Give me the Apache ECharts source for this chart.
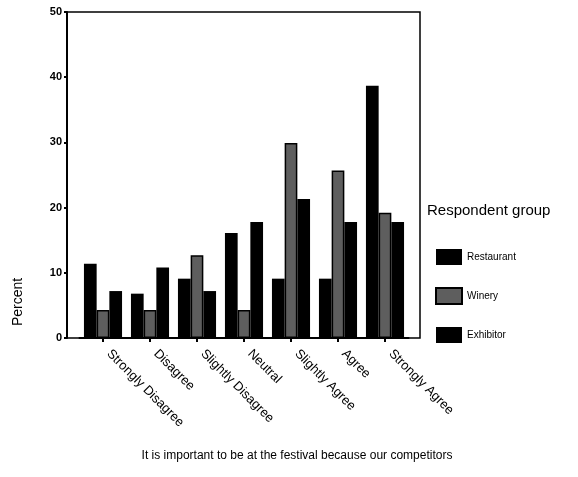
<!DOCTYPE html>
<html>
<head>
<meta charset="utf-8">
<script src="https://cdn.jsdelivr.net/npm/echarts@6/dist/echarts.min.js"></script>
<style>
html,body{margin:0;padding:0;background:#fff;}
#chart{width:578px;height:477px;}
</style>
</head>
<body>
<div id="chart"></div>
<script>
var categories = ['Strongly Disagree','Disagree','Slightly Disagree','Neutral','Slightly Agree','Agree','Strongly Agree'];
var restaurant = [11.4, 6.8, 9.1, 16.1, 9.1, 9.1, 38.7];
var winery = [4.3, 4.3, 12.7, 4.3, 29.9, 25.7, 19.2];
var exhibitor = [7.2, 10.8, 7.2, 17.8, 21.3, 17.8, 17.8];
var yTicks = [0, 10, 20, 30, 40, 50];
var legendTitle = 'Respondent group';
var xTitle = 'It is important to be at the festival because our competitors';
var yTitle = 'Percent';

var font = 'Liberation Sans, Arial, sans-serif';
var chart = echarts.init(document.getElementById('chart'));
var top0 = 12, height0 = 326;
chart.setOption({
  animation: false,
  backgroundColor: '#fff',
  textStyle: {fontFamily: font, color: '#000'},
  grid: [
    {left: 67, top: top0, width: 353, height: height0, show: true, borderColor: '#000', borderWidth: 1.5, backgroundColor: 'transparent'},
    {left: 79.5, top: top0, width: 329, height: height0}
  ],
  xAxis: [
    {gridIndex: 0, type: 'value', min: 0, max: 1, show: false},
    {gridIndex: 1, type: 'category', data: categories,
     axisLine: {show: true, lineStyle: {color: '#000', width: 2}},
     axisTick: {show: true, alignWithLabel: true, length: 4, lineStyle: {color: '#000', width: 2}},
     axisLabel: {rotate: -45, fontSize: 13, color: '#000', fontFamily: font, margin: 8, padding: [0, 0, 0, 8], interval: 0}}
  ],
  yAxis: [
    {gridIndex: 0, type: 'value', min: yTicks[0], max: yTicks[yTicks.length-1], interval: 10,
     axisLine: {show: true, lineStyle: {color: '#000', width: 2}},
     axisTick: {show: true, length: 3, lineStyle: {color: '#000', width: 2}},
     axisLabel: {fontSize: 11, fontWeight: 'bold', color: '#000', fontFamily: font, margin: 5},
     splitLine: {show: false}},
    {gridIndex: 1, type: 'value', min: yTicks[0], max: yTicks[yTicks.length-1], interval: 10, show: false}
  ],
  legend: {
    orient: 'vertical', left: 430, top: 244, itemWidth: 26, itemHeight: 16, itemGap: 22,
    icon: 'rect',
    textStyle: {fontSize: 10, color: '#000', fontFamily: font},
    data: ['Restaurant','Winery','Exhibitor']
  },
  graphic: [
    {type: 'text', left: 427, top: 203, style: {text: legendTitle, fontSize: 15, fontFamily: font, fill: '#000'}},
    {type: 'text', x: 297, y: 456, style: {text: xTitle, fontSize: 12, fontFamily: font, fill: '#000', align: 'center', verticalAlign: 'middle'}},
    {type: 'text', x: 18, y: 302, rotation: Math.PI/2, style: {text: yTitle, fontSize: 14, fontFamily: font, fill: '#000', align: 'center', verticalAlign: 'middle'}}
  ],
  series: [
    {name: 'Restaurant', type: 'bar', xAxisIndex: 1, yAxisIndex: 1, data: restaurant, barWidth: 12.7, barGap: '0%',
     itemStyle: {color: '#000'}},
    {name: 'Winery', type: 'bar', xAxisIndex: 1, yAxisIndex: 1, data: winery, barWidth: 12.7, barGap: '0%',
     itemStyle: {color: '#5e5e5e', borderColor: '#000', borderWidth: 1.5}},
    {name: 'Exhibitor', type: 'bar', xAxisIndex: 1, yAxisIndex: 1, data: exhibitor, barWidth: 12.7, barGap: '0%',
     itemStyle: {color: '#000'}}
  ]
});
</script>
</body>
</html>
